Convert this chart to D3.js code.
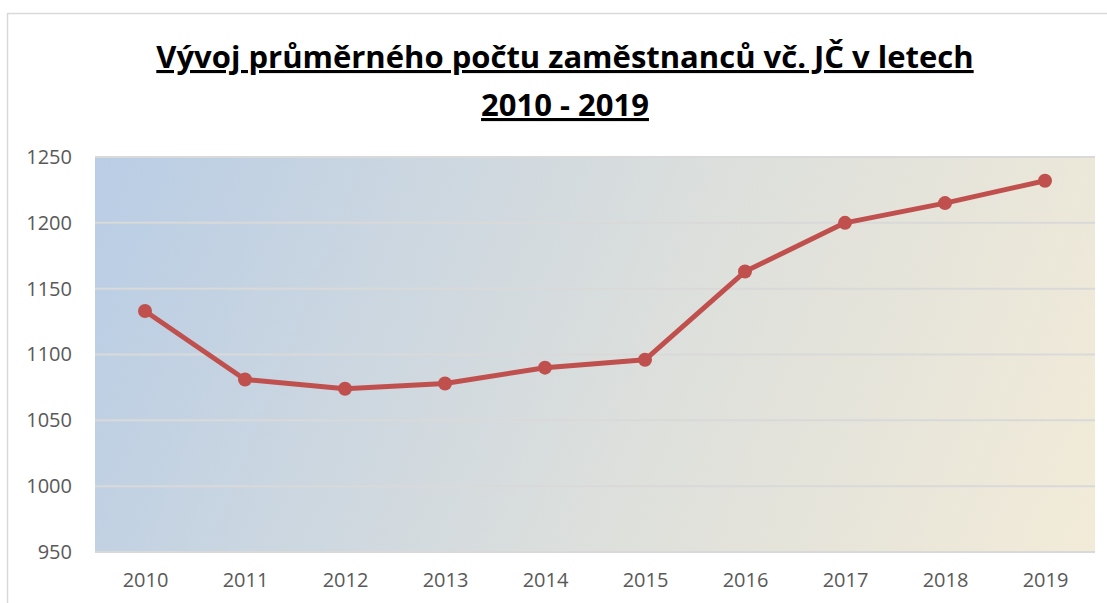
<!DOCTYPE html>
<html><head><meta charset="utf-8">
<script src="https://cdn.jsdelivr.net/npm/d3@7"></script>
<style>body{margin:0;background:#fff;}svg{display:block;}</style>
</head><body>
<svg id="c" width="1107" height="603"></svg>
<script>
const years = ["2010","2011","2012","2013","2014","2015","2016","2017","2018","2019"];
const employees = [1133,1081,1074,1078,1090,1096,1163,1200,1215,1232];
const yTicks = [950,1000,1050,1100,1150,1200,1250];
const titleLines = ["Vývoj průměrného počtu zaměstnanců vč. JČ v letech","2010 - 2019"];

const svg = d3.select("#c");
const W = 1107, H = 603;
const m = {left:95, right:1095, top:157, bottom:552};

// outer frame
svg.append("rect").attr("x",7.5).attr("y",13.5).attr("width",1120).attr("height",620)
  .attr("fill","#fff").attr("stroke","#d9d9d9").attr("stroke-width",1.5);

const defs = svg.append("defs");
const g = defs.append("linearGradient").attr("id","bg").attr("gradientUnits","userSpaceOnUse")
  .attr("x1",m.left).attr("y1",m.top).attr("x2",m.right).attr("y2",m.bottom);
g.append("stop").attr("offset","0%").attr("stop-color","#b9cde5");
g.append("stop").attr("offset","55%").attr("stop-color","#dcdfdc");
g.append("stop").attr("offset","100%").attr("stop-color","#f2ebd8");

const x = d3.scalePoint().domain(years).range([m.left, m.right]).padding(0.5);
const y = d3.scaleLinear().domain([950,1250]).range([m.bottom, m.top]);

svg.append("rect").attr("x",m.left).attr("y",m.top).attr("width",m.right-m.left).attr("height",m.bottom-m.top)
  .attr("fill","url(#bg)");

// gridlines
svg.append("g").selectAll("line").data(yTicks).join("line")
  .attr("x1",m.left).attr("x2",m.right)
  .attr("y1",d=>y(d)).attr("y2",d=>y(d))
  .attr("stroke","#d9d9d9").attr("stroke-width",2);

// y axis labels
const yAxis = svg.append("g").attr("transform",`translate(${m.left},0)`)
  .call(d3.axisLeft(y).tickValues(yTicks).tickFormat(d3.format("d")).tickSize(0).tickPadding(23));
yAxis.select(".domain").remove();
yAxis.selectAll("text").attr("font-family","'Open Sans', sans-serif").attr("font-size",20).attr("fill","#595959");

// x axis labels
const xAxis = svg.append("g").attr("transform",`translate(0,${m.bottom})`)
  .call(d3.axisBottom(x).tickSize(0).tickPadding(21));
xAxis.select(".domain").remove();
xAxis.selectAll("text").attr("font-family","'Open Sans', sans-serif").attr("font-size",20).attr("fill","#595959");

// line
const line = d3.line().x((d,i)=>x(years[i])).y(d=>y(d));
svg.append("path").datum(employees).attr("d",line)
  .attr("fill","none").attr("stroke","#c0504d").attr("stroke-width",5).attr("stroke-linejoin","round");
svg.append("g").selectAll("circle").data(employees).join("circle")
  .attr("cx",(d,i)=>x(years[i])).attr("cy",d=>y(d)).attr("r",7).attr("fill","#c0504d");

// title
const tY = [68, 116];
titleLines.forEach((t,i)=>{
  svg.append("text").attr("x",565).attr("y",tY[i]).attr("text-anchor","middle")
    .attr("font-family","'Open Sans', sans-serif").attr("font-weight","bold").attr("font-size",31)
    .attr("fill","#000").attr("text-decoration","underline").text(t);
});
</script>
</body></html>
